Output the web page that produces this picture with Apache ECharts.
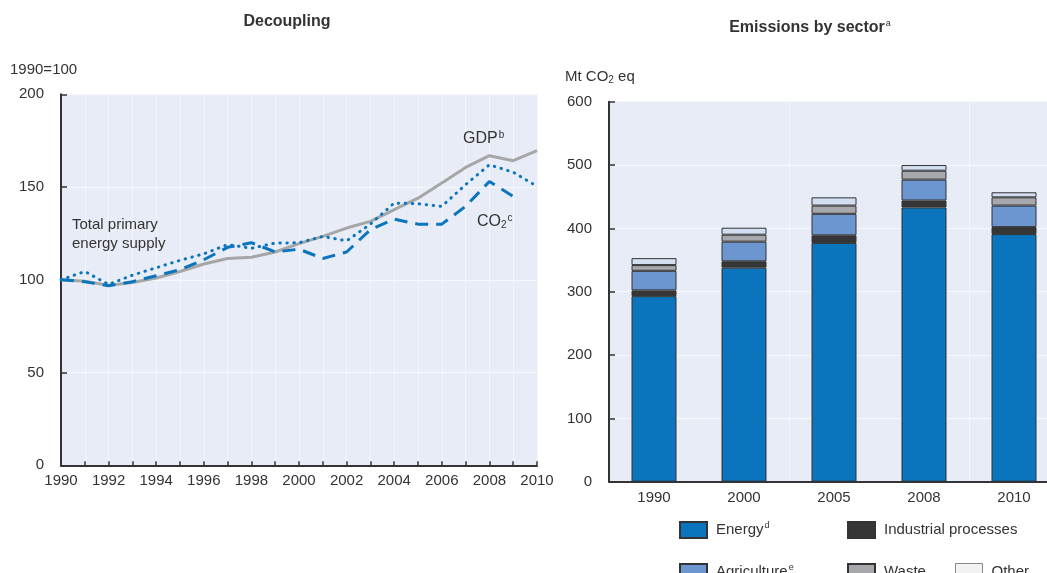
<!DOCTYPE html>
<html>
<head>
<meta charset="utf-8">
<script src="https://cdn.jsdelivr.net/npm/echarts@6/dist/echarts.min.js"></script>
<style>
html,body{margin:0;padding:0;background:#fff;overflow:hidden;width:1047px;height:573px;}
#chart{width:1062px;height:573px;}
</style>
</head>
<body>
<div id="chart"></div>
<script>
// ---- Data: Decoupling (1990 = 100) ----
const years = ['1990','1991','1992','1993','1994','1995','1996','1997','1998','1999','2000',
               '2001','2002','2003','2004','2005','2006','2007','2008','2009','2010'];
const gdp  = [100, 99.2, 97, 98.5, 101, 104.5, 108.5, 111.5, 112.2, 115, 119.5,
              123.4, 127.9, 131.5, 137.8, 144, 152.2, 160.6, 166.9, 164.2, 169.6];
const tpes = [100, 104.5, 97.5, 102.5, 106.5, 110.5, 114, 119, 117, 119.8, 120,
              123.4, 121, 130, 141.4, 141, 139.6, 151.3, 162, 158, 150.4];
const co2  = [100, 99, 96.8, 99, 102.2, 105.4, 110.8, 117.5, 120, 115, 116.5,
              111.5, 115, 127, 132.7, 130, 130, 139.6, 153, 145, null];
const yTicksLeft = [0, 50, 100, 150, 200];

// ---- Data: Emissions by sector (Mt CO2 eq) ----
const sectorYears  = ['1990','2000','2005','2008','2010'];
const energy       = [293, 338, 377, 433, 391];
const industrial   = [9, 10, 12, 11, 11];
const agriculture  = [31, 31, 34, 33, 34];
const waste        = [9, 11, 13, 14, 13];
const other        = [11, 11, 13, 9, 8];
const yTicksRight  = [0, 100, 200, 300, 400, 500, 600];

const FONT = '"Liberation Sans", Arial, Helvetica, sans-serif';
const TXT = '#333333';
const BG = '#e8ecf7';
const BLUE = '#0a75bc';

const chart = echarts.init(document.getElementById('chart'), null, {renderer:'canvas'});

const supStyle = {fontSize: 10, fontFamily: FONT, color: TXT, verticalAlign: 'top', padding:[0,0,7,1]};
const subStyle = {fontSize: 10, fontFamily: FONT, color: TXT, verticalAlign: 'bottom', padding:[6,0,0,0]};

function legendFor(name, left, top, colorOverride) {
  const item = {name: name};
  if (colorOverride) item.itemStyle = {color: colorOverride, borderColor: '#888', borderWidth: 1};
  return {
    data: [item], left: left, top: top, padding: 0, itemWidth: 27, itemHeight: 16,
    icon: 'rect', selectedMode: false,
    formatter: function (n) {
      if (n === 'Energy') return 'Energy{sup|d}';
      if (n === 'Agriculture') return 'Agriculture{sup|e}';
      return n;
    },
    textStyle: {fontFamily: FONT, fontSize: 15, color: TXT, padding: [0,0,0,4],
      rich: {sup: {fontSize: 9, fontFamily: FONT, color: TXT, verticalAlign: 'top', padding: [0,0,8,1]}}}
  };
}

const option = {
  animation: false,
  backgroundColor: '#ffffff',
  textStyle: {fontFamily: FONT},
  grid: [
    {left: 61, top: 94.3, width: 476, height: 371, show: true, backgroundColor: BG, borderWidth: 0},
    {left: 609, top: 101.7, width: 450, height: 380, show: true, backgroundColor: BG, borderWidth: 0}
  ],
  xAxis: [
    {
      type: 'category', gridIndex: 0, data: years, boundaryGap: false,
      axisLine: {lineStyle: {color: '#333', width: 2}},
      axisTick: {inside: true, length: 4, interval: 0, lineStyle: {color: '#333', width: 1.5}},
      axisLabel: {interval: 1, color: TXT, fontSize: 15, fontFamily: FONT, margin: 8},
      splitLine: {show: true, interval: 0, lineStyle: {color: '#f4f6fb', width: 1}}
    },
    {
      type: 'category', gridIndex: 1, data: sectorYears, boundaryGap: true,
      axisLine: {lineStyle: {color: '#333', width: 2}},
      axisTick: {inside: true, length: 6, interval: function (i) { return i === 2 || i === 4; },
                 lineStyle: {color: '#333', width: 1.5}},
      axisLabel: {interval: 0, color: TXT, fontSize: 15, fontFamily: FONT, margin: 9},
      splitLine: {show: true, interval: function (i) { return i === 2 || i === 4; },
                  lineStyle: {color: '#f4f6fb', width: 1}}
    }
  ],
  yAxis: [
    {
      type: 'value', gridIndex: 0, min: yTicksLeft[0], max: yTicksLeft[yTicksLeft.length-1], interval: 50,
      axisLine: {show: true, lineStyle: {color: '#333', width: 2}},
      axisTick: {show: true, inside: true, length: 6, lineStyle: {color: '#333', width: 1.5}},
      axisLabel: {color: TXT, fontSize: 15, fontFamily: FONT, margin: 17},
      splitLine: {show: true, lineStyle: {color: '#f7f8fc', width: 1}}
    },
    {
      type: 'value', gridIndex: 1, min: yTicksRight[0], max: yTicksRight[yTicksRight.length-1], interval: 100,
      axisLine: {show: true, lineStyle: {color: '#333', width: 2}},
      axisTick: {show: true, inside: true, length: 6, lineStyle: {color: '#333', width: 1.5}},
      axisLabel: {color: TXT, fontSize: 15, fontFamily: FONT, margin: 17},
      splitLine: {show: true, lineStyle: {color: '#f7f8fc', width: 1}}
    }
  ],
  legend: [
    legendFor('Energy', 679, 521),
    legendFor('Industrial processes', 847, 521),
    legendFor('Agriculture', 679, 563),
    legendFor('Waste', 847, 563),
    legendFor('Other', 955, 563, '#f2f2f2')
  ],
  series: [
    {name: 'GDP', type: 'line', xAxisIndex: 0, yAxisIndex: 0, data: gdp, symbol: 'none',
     lineStyle: {color: '#a6a6a6', width: 3}, z: 2},
    {name: 'TPES', type: 'line', xAxisIndex: 0, yAxisIndex: 0, data: tpes, symbol: 'none',
     lineStyle: {color: BLUE, width: 3, type: [0.5, 6.5], cap: 'round'}, z: 3},
    {name: 'CO2', type: 'line', xAxisIndex: 0, yAxisIndex: 0, data: co2, symbol: 'none',
     lineStyle: {color: BLUE, width: 3, type: [13, 8]}, z: 4},

    {name: 'Energy', type: 'bar', stack: 's', xAxisIndex: 1, yAxisIndex: 1, data: energy, barWidth: 45,
     itemStyle: {color: BLUE, borderColor: '#333', borderWidth: 1}},
    {name: 'Industrial processes', type: 'bar', stack: 's', xAxisIndex: 1, yAxisIndex: 1, data: industrial, barWidth: 45,
     itemStyle: {color: '#363636', borderColor: '#333', borderWidth: 1}},
    {name: 'Agriculture', type: 'bar', stack: 's', xAxisIndex: 1, yAxisIndex: 1, data: agriculture, barWidth: 45,
     itemStyle: {color: '#6b96cf', borderColor: '#333', borderWidth: 1}},
    {name: 'Waste', type: 'bar', stack: 's', xAxisIndex: 1, yAxisIndex: 1, data: waste, barWidth: 45,
     itemStyle: {color: '#a7a8ab', borderColor: '#333', borderWidth: 1}},
    {name: 'Other', type: 'bar', stack: 's', xAxisIndex: 1, yAxisIndex: 1, data: other, barWidth: 45,
     itemStyle: {color: '#d3def2', borderColor: '#333', borderWidth: 1}}
  ],
  graphic: [
    {type: 'text', z: 100, x: 287, y: 22, style: {text: 'Decoupling', font: 'bold 16px ' + FONT, fill: TXT, align: 'center', verticalAlign: 'middle'}},
    {type: 'text', z: 100, x: 810, y: 28, style: {text: 'Emissions by sector{sup|a}', font: 'bold 16px ' + FONT, fill: TXT, align: 'center', verticalAlign: 'middle',
      rich: {sup: {fontSize: 9, fontFamily: FONT, fill: TXT, verticalAlign: 'top', padding: [0,0,8,1]}}}},
    {type: 'text', z: 100, x: 10, y: 70, style: {text: '1990=100', font: '15px ' + FONT, fill: TXT, align: 'left', verticalAlign: 'middle'}},
    {type: 'text', z: 100, x: 565, y: 77, style: {text: 'Mt CO{sub|2} eq', font: '15px ' + FONT, fill: TXT, align: 'left', verticalAlign: 'middle',
      rich: {sub: subStyle}}},
    {type: 'text', z: 100, x: 72, y: 225, style: {text: 'Total primary', font: '15px ' + FONT, fill: TXT, align: 'left', verticalAlign: 'middle'}},
    {type: 'text', z: 100, x: 72, y: 244, style: {text: 'energy supply', font: '15px ' + FONT, fill: TXT, align: 'left', verticalAlign: 'middle'}},
    {type: 'text', z: 100, x: 463, y: 139, style: {text: 'GDP{sup|b}', font: '16px ' + FONT, fill: TXT, align: 'left', verticalAlign: 'middle',
      rich: {sup: supStyle}}},
    {type: 'text', z: 100, x: 477, y: 222, style: {text: 'CO{sub|2}{sup|c}', font: '16px ' + FONT, fill: TXT, align: 'left', verticalAlign: 'middle',
      rich: {sub: subStyle, sup: supStyle}}}
  ]
};
chart.setOption(option);
</script>
</body>
</html>
